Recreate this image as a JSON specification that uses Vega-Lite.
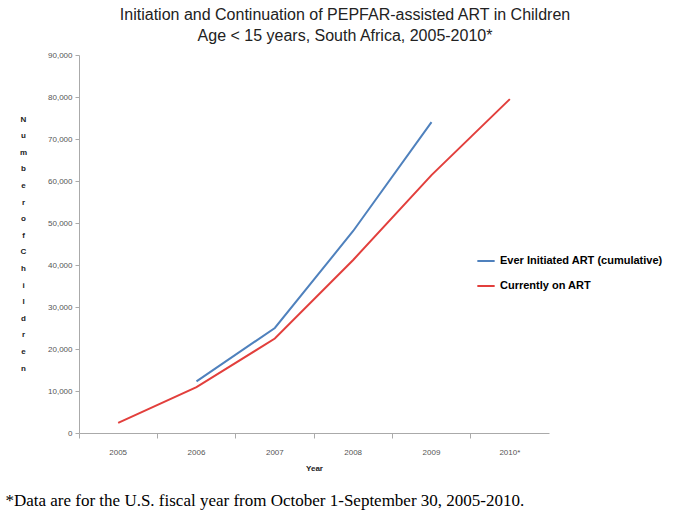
{
  "$schema": "https://vega.github.io/schema/vega-lite/v6.json",
  "padding": {"left": 5, "top": 7, "right": 5, "bottom": 5},
  "background": "white",
  "title": {
    "text": "*Data are for the U.S. fiscal year from October 1-September 30, 2005-2010.",
    "orient": "bottom",
    "anchor": "start",
    "frame": "bounds",
    "font": "Liberation Serif",
    "fontSize": 17,
    "fontWeight": "normal",
    "color": "#000000",
    "offset": 21,
    "dx": -14
  },
  "config": {"view": {"stroke": null}},
  "vconcat": [
    {
      "width": 470,
      "height": 378,
      "title": {
        "text": ["Initiation and Continuation of PEPFAR-assisted ART in Children", "Age < 15 years, South Africa, 2005-2010*"],
        "anchor": "middle",
        "frame": "group",
        "font": "Liberation Sans",
        "fontSize": 16,
        "fontWeight": "normal",
        "color": "#222222",
        "lineHeight": 21,
        "dx": 31,
        "offset": 7
      },
      "data": {
        "values": [
          {"year": "2005", "series": "Currently on ART", "value": 2400},
          {"year": "2006", "series": "Currently on ART", "value": 10900},
          {"year": "2007", "series": "Currently on ART", "value": 22500},
          {"year": "2008", "series": "Currently on ART", "value": 41200},
          {"year": "2009", "series": "Currently on ART", "value": 61400},
          {"year": "2010*", "series": "Currently on ART", "value": 79500},
          {"year": "2006", "series": "Ever Initiated ART (cumulative)", "value": 12300},
          {"year": "2007", "series": "Ever Initiated ART (cumulative)", "value": 25000},
          {"year": "2008", "series": "Ever Initiated ART (cumulative)", "value": 48100},
          {"year": "2009", "series": "Ever Initiated ART (cumulative)", "value": 74000}
        ]
      },
      "mark": {"type": "line", "strokeWidth": 2},
      "encoding": {
        "x": {
          "field": "year",
          "type": "ordinal",
          "sort": null,
          "scale": {"type": "band", "paddingInner": 0, "paddingOuter": 0},
          "axis": {
            "title": "Year",
            "titleFont": "Liberation Sans",
            "titleFontSize": 8,
            "titleFontWeight": "bold",
            "titleColor": "#222222",
            "titlePadding": 8,
            "labelFont": "Liberation Sans",
            "labelFontSize": 8,
            "labelColor": "#555555",
            "labelAngle": 0,
            "labelPadding": 10,
            "bandPosition": 0,
            "tickSize": 5,
            "tickColor": "#aaaaaa",
            "domainColor": "#aaaaaa",
            "grid": false
          }
        },
        "y": {
          "field": "value",
          "type": "quantitative",
          "scale": {"domain": [0, 90000], "nice": false},
          "axis": {
            "values": [0, 10000, 20000, 30000, 40000, 50000, 60000, 70000, 80000, 90000],
            "format": ",d",
            "title": ["N", "u", "m", "b", "e", "r", "\u00a0", "o", "f", "\u00a0", "C", "h", "i", "l", "d", "r", "e", "n"],
            "titleAngle": 0,
            "titleFont": "Liberation Sans",
            "titleFontSize": 8,
            "titleFontWeight": "bold",
            "titleColor": "#222222",
            "titleLineHeight": 16.6,
            "titleAlign": "center",
            "titleBaseline": "middle",
            "titleX": -56,
            "titleY": 64,
            "labelFont": "Liberation Sans",
            "labelFontSize": 8,
            "labelColor": "#555555",
            "labelPadding": 3,
            "tickSize": 4,
            "tickColor": "#aaaaaa",
            "domainColor": "#aaaaaa",
            "grid": false
          }
        },
        "color": {
          "field": "series",
          "type": "nominal",
          "sort": ["Ever Initiated ART (cumulative)", "Currently on ART"],
          "scale": {
            "domain": ["Ever Initiated ART (cumulative)", "Currently on ART"],
            "range": ["#4f81bd", "#e23f3c"]
          },
          "legend": {
            "title": null,
            "orient": "none",
            "legendX": 397,
            "legendY": 196,
            "symbolType": "stroke",
            "symbolSize": 300,
            "symbolStrokeWidth": 2,
            "rowPadding": 10,
            "labelFont": "Liberation Sans",
            "labelFontSize": 11,
            "labelFontWeight": "bold",
            "labelColor": "#000000",
            "labelLimit": 300
          }
        }
      }
    }
  ]
}
